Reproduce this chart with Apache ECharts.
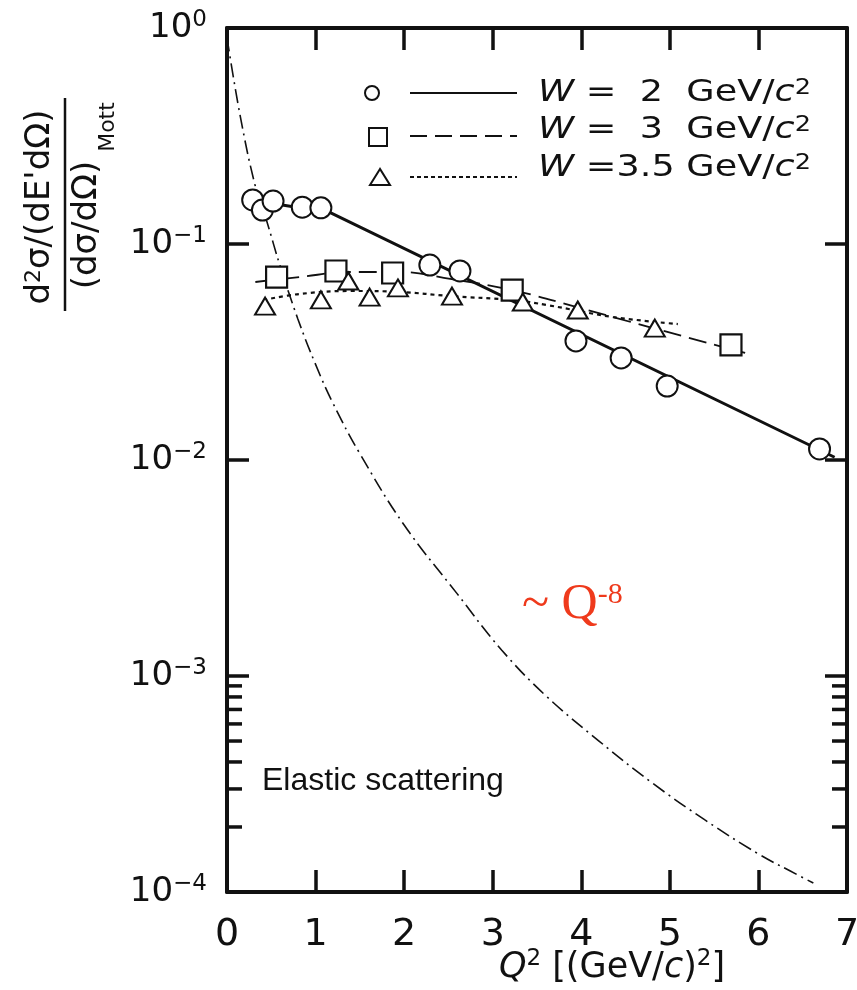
<!DOCTYPE html>
<html>
<head>
<meta charset="utf-8">
<script src="https://cdn.jsdelivr.net/npm/echarts@6/dist/echarts.min.js"></script>
<style>
  html, body { margin: 0; padding: 0; background: #fff; }
  #chart { width: 857px; height: 990px; }
</style>
</head>
<body>
<div id="chart"></div>
<script>
// W = 2 GeV/c^2 (circles)
const circleQ2 = [0.29, 0.40, 0.52, 0.85, 1.06, 2.29, 2.63, 3.94, 4.45, 4.97, 6.69];
const circleVal = [0.160, 0.1436, 0.158, 0.148, 0.147, 0.0799, 0.0750, 0.0356, 0.0297, 0.0220, 0.01125];
// W = 3 GeV/c^2 (squares)
const squareQ2 = [0.56, 1.23, 1.87, 3.22, 5.69];
const squareVal = [0.0703, 0.0750, 0.0734, 0.0612, 0.0341];
// W = 3.5 GeV/c^2 (triangles)
const triQ2 = [0.43, 1.06, 1.37, 1.61, 1.93, 2.54, 3.34, 3.96, 4.83];
const triVal = [0.0516, 0.0551, 0.0674, 0.0568, 0.0626, 0.0574, 0.0539, 0.0495, 0.0408];

// fitted curves
const solidQ2 = [0.30, 1.16, 6.86];
const solidVal = [0.159, 0.140, 0.0103];
const dashQ2 = [0.32, 0.82, 1.39, 1.95, 2.52, 3.22, 3.99, 4.81, 5.85];
const dashVal = [0.0667, 0.0703, 0.0742, 0.0742, 0.0689, 0.0612, 0.0505, 0.0408, 0.0313];
const dotQ2 = [0.41, 0.82, 1.39, 1.95, 2.52, 3.23, 3.61, 4.36, 5.09];
const dotVal = [0.0550, 0.0587, 0.0606, 0.0600, 0.0574, 0.0550, 0.0522, 0.0459, 0.0426];

// elastic scattering (dash-dot)
const elasticQ2 = [0, 0.15, 0.32, 0.45, 0.6, 0.8, 1.0, 1.2, 1.5, 2.0, 2.6, 3.1, 3.6, 4.2, 4.8, 5.4, 6.0, 6.36, 6.62];
const elasticVal = [0.9, 0.39, 0.185, 0.127, 0.079, 0.045, 0.0277, 0.0182, 0.0107, 0.0050, 0.0024, 0.00132, 0.00081, 0.00050, 0.00032, 0.000215, 0.000150, 0.000125, 0.000110];

const xTicks = [0, 1, 2, 3, 4, 5, 6, 7];
const minorTicks = [2e-4, 3e-4, 4e-4, 5e-4, 6e-4, 7e-4, 8e-4, 9e-4];

const zip = (xs, ys) => xs.map((x, i) => [x, ys[i]]);

const INK = '#111';
const SANS = 'DejaVu Sans';

const chart = echarts.init(document.getElementById('chart'));

const axisCommon = {
  axisLine: { show: true, onZero: false, lineStyle: { color: INK, width: 4 } },
  axisTick: { show: true, inside: true, length: 22, lineStyle: { color: INK, width: 3.5 } },
  splitLine: { show: false }
};

const option = {
  animation: false,
  backgroundColor: '#fff',
  grid: { left: 227, right: 10, top: 28, bottom: 98, containLabel: false, outerBoundsMode: 'none' },
  xAxis: [
    {
      ...axisCommon,
      type: 'value',
      min: xTicks[0],
      max: xTicks[xTicks.length - 1],
      interval: 1,
      axisLabel: { color: INK, fontFamily: SANS, fontSize: 38, margin: 24 },
      name: '{i|Q}{s|2} [(GeV/{i|c}){s|2}]',
      nameLocation: 'middle',
      nameMoveOverlap: false,
      nameGap: 56,
      nameTextStyle: {
        color: INK, fontFamily: SANS, fontSize: 35, padding: [0, 0, 0, 150],
        rich: {
          i: { fontFamily: SANS, fontSize: 35, fontStyle: 'italic', color: INK, lineHeight: 40 },
          s: { fontFamily: SANS, fontSize: 23, color: INK, verticalAlign: 'top', lineHeight: 23 }
        }
      }
    },
    {
      ...axisCommon,
      type: 'value',
      position: 'top',
      min: xTicks[0],
      max: xTicks[xTicks.length - 1],
      interval: 1,
      axisLabel: { show: false }
    }
  ],
  yAxis: [
    {
      ...axisCommon,
      type: 'log',
      logBase: 10,
      min: 1e-4,
      max: 1,
      axisLabel: {
        color: INK,
        margin: 20,
        formatter: function (v) {
          const e = Math.round(Math.log10(v));
          return '{b|10}{s|' + (e === 0 ? '0' : '\u2212' + (-e)) + '}';
        },
        rich: {
          b: { fontFamily: SANS, fontSize: 34, color: INK, lineHeight: 38 },
          s: { fontFamily: SANS, fontSize: 23, color: INK, verticalAlign: 'top', lineHeight: 23 }
        }
      }
    },
    {
      ...axisCommon,
      type: 'log',
      logBase: 10,
      position: 'right',
      min: 1e-4,
      max: 1,
      axisLabel: { show: false }
    }
  ],
  series: [
    {
      name: 'elastic',
      type: 'line',
      data: zip(elasticQ2, elasticVal),
      smooth: 0.4,
      showSymbol: false,
      lineStyle: { color: INK, width: 1.6, type: [14, 5, 2, 5] },
      z: 2
    },
    {
      name: 'W2 fit',
      type: 'line',
      data: zip(solidQ2, solidVal),
      showSymbol: false,
      lineStyle: { color: INK, width: 3 },
      z: 2
    },
    {
      name: 'W3 fit',
      type: 'line',
      data: zip(dashQ2, dashVal),
      smooth: 0.4,
      showSymbol: false,
      lineStyle: { color: INK, width: 1.8, type: [18, 8] },
      z: 2
    },
    {
      name: 'W3.5 fit',
      type: 'line',
      data: zip(dotQ2, dotVal),
      smooth: 0.4,
      showSymbol: false,
      lineStyle: { color: INK, width: 2.2, type: [4, 4] },
      z: 2
    },
    {
      name: 'W = 2',
      type: 'scatter',
      data: zip(circleQ2, circleVal),
      symbol: 'circle',
      symbolSize: 21,
      itemStyle: { color: '#fff', borderColor: INK, borderWidth: 2, opacity: 1 },
      z: 4
    },
    {
      name: 'W = 3',
      type: 'scatter',
      data: zip(squareQ2, squareVal),
      symbol: 'rect',
      symbolSize: 21,
      itemStyle: { color: '#fff', borderColor: INK, borderWidth: 2.2, opacity: 1 },
      z: 4
    },
    {
      name: 'W = 3.5',
      type: 'scatter',
      data: zip(triQ2, triVal),
      symbol: 'triangle',
      symbolSize: [20, 17],
      itemStyle: { color: '#fff', borderColor: INK, borderWidth: 2, opacity: 1 },
      z: 4
    }
  ]
};

chart.setOption(option);

// legend, annotations and the minor ticks of the lowest decade
const richLegend = {
  i: { fontFamily: SANS, fontSize: 30, fontStyle: 'italic', fill: INK },
  s: { fontFamily: SANS, fontSize: 21, fill: INK, verticalAlign: 'top', lineHeight: 21 }
};
const legendText = (y, txt) => ({
  type: 'text', x: 538, y: y, z: 10, scaleX: 1.22,
  style: {
    text: txt, fontFamily: SANS, fontSize: 30, fill: INK,
    textVerticalAlign: 'middle', rich: richLegend
  }
});

const graphic = [
  // legend
  { type: 'circle', shape: { cx: 372, cy: 93, r: 7 }, style: { fill: '#fff', stroke: INK, lineWidth: 2 }, z: 10 },
  { type: 'line', shape: { x1: 410, y1: 93, x2: 517, y2: 93 }, style: { stroke: INK, lineWidth: 2 }, z: 10 },
  legendText(93, '{i|W} =  2  GeV/{i|c}{s|2}'),
  { type: 'rect', shape: { x: 369, y: 128, width: 18, height: 18 }, style: { fill: '#fff', stroke: INK, lineWidth: 2 }, z: 10 },
  { type: 'line', shape: { x1: 410, y1: 136, x2: 517, y2: 136 }, style: { stroke: INK, lineWidth: 2, lineDash: [17, 8] }, z: 10 },
  legendText(130, '{i|W} =  3  GeV/{i|c}{s|2}'),
  { type: 'polygon', shape: { points: [[380, 169], [370, 185], [390, 185]] }, style: { fill: '#fff', stroke: INK, lineWidth: 2 }, z: 10 },
  { type: 'line', shape: { x1: 410, y1: 177, x2: 517, y2: 177 }, style: { stroke: INK, lineWidth: 2, lineDash: [4, 3] }, z: 10 },
  legendText(168, '{i|W} =3.5 GeV/{i|c}{s|2}'),

  // y axis title as a fraction
  {
    type: 'text', x: 40, y: 207, rotation: Math.PI / 2, z: 10,
    style: {
      text: 'd{s|2}\u03c3/(dE\'d\u03a9)', fontFamily: SANS, fontSize: 34, fill: INK,
      textAlign: 'center', textVerticalAlign: 'middle',
      rich: { s: { fontFamily: SANS, fontSize: 22, fill: INK, verticalAlign: 'top', lineHeight: 22 } }
    }
  },
  { type: 'line', shape: { x1: 65, y1: 98, x2: 65, y2: 311 }, style: { stroke: INK, lineWidth: 2.5 }, z: 10 },
  {
    type: 'text', x: 87, y: 225, rotation: Math.PI / 2, z: 10,
    style: {
      text: '(d\u03c3/d\u03a9)', fontFamily: SANS, fontSize: 34, fill: INK,
      textAlign: 'center', textVerticalAlign: 'middle'
    }
  },
  {
    type: 'text', x: 108, y: 127, rotation: Math.PI / 2, z: 10,
    style: {
      text: 'Mott', fontFamily: SANS, fontSize: 22, fill: INK,
      textAlign: 'center', textVerticalAlign: 'middle'
    }
  },

  // annotations
  {
    type: 'text', x: 262, y: 781, z: 10,
    style: { text: 'Elastic scattering', fontFamily: 'Liberation Sans', fontSize: 32, fill: INK, textVerticalAlign: 'middle' }
  },
  {
    type: 'text', x: 522, y: 605, z: 10,
    style: {
      text: '~ Q{s|-8}', fontFamily: 'Liberation Serif', fontSize: 50, fill: '#ef3a1c', textVerticalAlign: 'middle',
      rich: { s: { fontFamily: 'Liberation Serif', fontSize: 30, fill: '#ef3a1c', verticalAlign: 'top', lineHeight: 30 } }
    }
  }
];

minorTicks.forEach(function (v) {
  const pL = chart.convertToPixel({ xAxisIndex: 0, yAxisIndex: 0 }, [xTicks[0], v]);
  const pR = chart.convertToPixel({ xAxisIndex: 0, yAxisIndex: 0 }, [xTicks[xTicks.length - 1], v]);
  graphic.push({ type: 'line', shape: { x1: pL[0], y1: pL[1], x2: pL[0] + 15, y2: pL[1] }, style: { stroke: INK, lineWidth: 3.5 }, z: 10 });
  graphic.push({ type: 'line', shape: { x1: pR[0] - 15, y1: pR[1], x2: pR[0], y2: pR[1] }, style: { stroke: INK, lineWidth: 3.5 }, z: 10 });
});

chart.setOption({ graphic: graphic });

window.addEventListener('resize', function () { chart.resize(); });
</script>
</body>
</html>
